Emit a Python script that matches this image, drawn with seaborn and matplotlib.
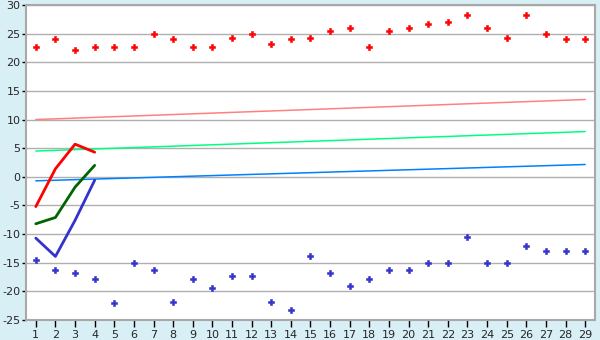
import matplotlib
matplotlib.use("Agg")
import matplotlib.pyplot as plt
import seaborn as sns
import pandas as pd

# ---- data ----
days = list(range(1, 30))
red_points = [22.7, 24.0, 22.2, 22.7, 22.7, 22.7, 25.0, 24.0, 22.7, 22.7,
              24.3, 25.0, 23.2, 24.0, 24.3, 25.5, 26.0, 22.7, 25.5, 26.0,
              26.7, 27.0, 28.3, 26.0, 24.3, 28.3, 25.0, 24.0, 24.0]
blue_points = [-14.5, -16.2, -16.8, -17.8, -22.1, -15.0, -16.2, -21.8, -17.8, -19.4,
               -17.3, -17.3, -21.8, -23.3, -13.9, -16.8, -19.0, -17.8, -16.2, -16.2,
               -15.0, -15.0, -10.5, -15.0, -15.0, -12.1, -12.9, -12.9, -12.9]

short_days = [1, 2, 3, 4]
red_line = [-5.2, 1.4, 5.7, 4.3]
green_line = [-8.2, -7.1, -1.8, 2.0]
blue_line = [-10.7, -13.9, -7.6, -0.6]

trend_days = [1, 29]
trend_red = [10.0, 13.5]
trend_green = [4.5, 7.9]
trend_blue = [-0.7, 2.15]

y_ticks = list(range(-25, 31, 5))

# ---- plot ----
sns.set_style("white")
plt.rcParams['font.family'] = ['DejaVu Sans']
plt.rcParams['axes.unicode_minus'] = False

fig = plt.figure(figsize=(6, 3.4), dpi=100)
fig.patch.set_facecolor("#D9EFF6")
ax = fig.add_axes([26/600, 20/340, 569/600, 315/340])
ax.set_facecolor("white")

for v in y_ticks:
    ax.axhline(v, color="#B0B0B0", lw=1, zorder=0)

trend_df = pd.DataFrame({"x": trend_days, "red": trend_red,
                         "green": trend_green, "blue": trend_blue})
sns.lineplot(data=trend_df, x="x", y="red", color="#FF8080", lw=1.1, ax=ax)
sns.lineplot(data=trend_df, x="x", y="green", color="#00FF80", lw=1.1, ax=ax)
sns.lineplot(data=trend_df, x="x", y="blue", color="#0080FF", lw=1.1, ax=ax)

line_df = pd.DataFrame({"x": short_days, "red": red_line,
                        "green": green_line, "blue": blue_line})
sns.lineplot(data=line_df, x="x", y="red", color="#FF0000", lw=2, ax=ax)
sns.lineplot(data=line_df, x="x", y="green", color="#006400", lw=2, ax=ax)
sns.lineplot(data=line_df, x="x", y="blue", color="#3333CC", lw=2, ax=ax)

pts = pd.DataFrame({"x": days, "red": red_points, "blue": blue_points})
sns.scatterplot(data=pts, x="x", y="red", color="#FF0000", marker="P",
                s=20, linewidth=0.4, edgecolor="#FF0000", ax=ax, zorder=5)
sns.scatterplot(data=pts, x="x", y="blue", color="#3333CC", marker="P",
                s=20, linewidth=0.4, edgecolor="#3333CC", ax=ax, zorder=5)

ax.set_xlim(0.5, 29.5)
ax.set_ylim(-25, 30)
ax.set_xticks(days)
ax.set_xticklabels([str(d) for d in days])
ax.set_yticks(y_ticks)
ax.set_yticklabels([str(v) for v in y_ticks])
ax.set_xlabel("")
ax.set_ylabel("")

for s in ["top", "right", "bottom", "left"]:
    ax.spines[s].set_color("#A8A8A8")
    ax.spines[s].set_linewidth(1.5)

ax.tick_params(axis="x", length=5, width=1, color="black",
               labelsize=8, pad=2, direction="out", bottom=True)
ax.tick_params(axis="y", length=3, width=1, color="black",
               labelsize=8, pad=1, direction="out", left=True)

fig.savefig("out.png", dpi=100, facecolor=fig.get_facecolor())
